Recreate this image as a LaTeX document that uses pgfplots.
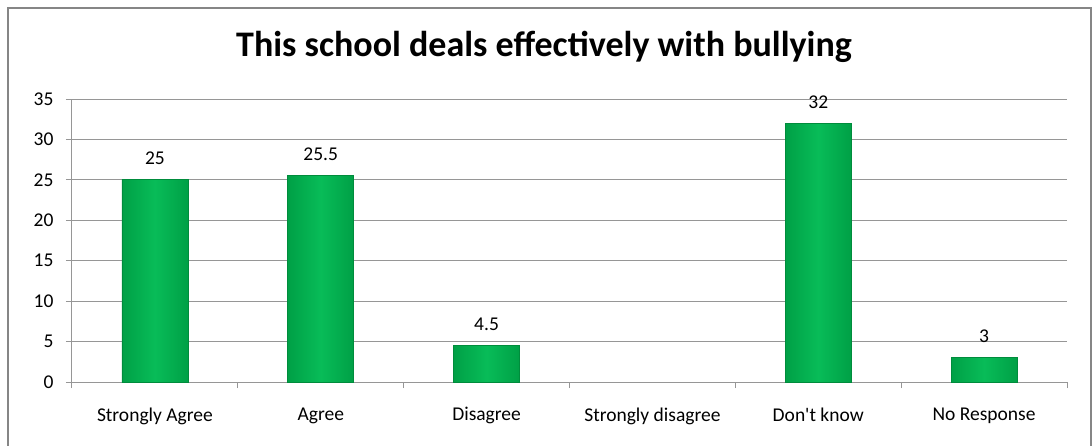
\documentclass[border=0pt]{standalone}
\usepackage{pgfplots}
\pgfplotsset{compat=1.18}
\usepackage{fontspec}
\setmainfont{Carlito}
\definecolor{barg}{RGB}{8,188,88}
\definecolor{baredge}{RGB}{0,160,70}
\definecolor{bardark}{RGB}{0,140,60}
\definecolor{gridg}{RGB}{150,150,150}
\definecolor{frameg}{RGB}{134,134,134}
\pgfplotsset{greenbar/.style={draw=bardark, line width=0.8pt, left color=baredge, right color=baredge, middle color=barg, bar shift=0pt}}
\begin{document}
\begin{tikzpicture}
\path[use as bounding box] (-72pt,-63pt) rectangle (1020pt,382pt);
\draw[frameg,line width=2pt] (-64pt,-70pt) -- (-64pt,374pt) -- (1019pt,374pt) -- (1019pt,-70pt);
\begin{axis}[
  at={(0pt,0pt)}, anchor=south west,
  scale only axis, width=995pt, height=283pt,
  xmin=-0.5, xmax=5.5, ymin=0, ymax=35,
  ytick={0,5,...,35},
  xtick={0,1,2,3,4,5},
  xticklabels={Strongly Agree,Agree,Disagree,Strongly disagree,Don\textquotesingle t know,No Response},
  minor xtick={-0.5,0.5,...,5.5},
  major x tick style={draw=none},
  minor tick length=6pt,
  major tick length=6pt,
  tick align=outside,
  xtick pos=bottom, ytick pos=left,
  ymajorgrids, grid style={gridg, line width=1pt},
  axis line style={gridg, line width=1pt},
  every tick/.style={gridg, line width=1pt},
  axis x line*=bottom, axis y line*=left,
  x axis line style={-}, y axis line style={-},
  ticklabel style={font=\fontsize{19.5}{23}\selectfont},
  /pgf/number format/assume math mode=true,
  yticklabel style={xshift=-9pt},
  xticklabel style={yshift=-16pt},
  title={\textbf{This school deals effectively with bullying}},
  title style={font=\fontsize{36}{42}\selectfont, at={(472pt,320pt)}, anchor=base},
  ybar, bar width=66pt,
  nodes near coords,
  every node near coord/.style={font=\fontsize{19.5}{23}\selectfont, black, yshift=11pt},
  /pgf/number format/.cd, fixed, precision=1,
]
\addplot[greenbar] coordinates {(0,25)};
\addplot[greenbar] coordinates {(1,25.5)};
\addplot[greenbar] coordinates {(2,4.5)};
\addplot[greenbar] coordinates {(4,32)};
\addplot[greenbar] coordinates {(5,3)};
\end{axis}
\end{tikzpicture}
\end{document}
